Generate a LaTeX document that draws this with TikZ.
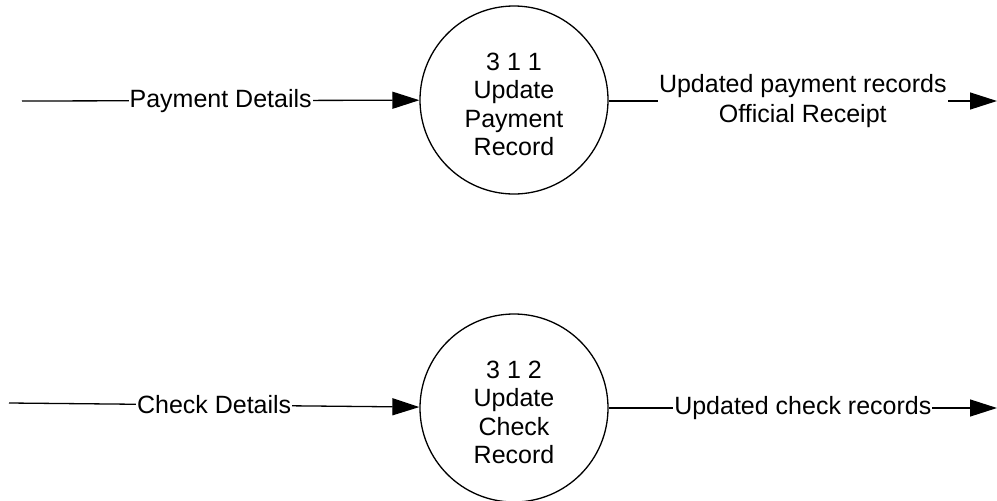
\documentclass[tikz,border=0pt]{standalone}
\usepackage{fontspec}
\setmainfont{Liberation Sans}
\usetikzlibrary{arrows.meta,positioning}

\tikzset{
  process/.style={draw, circle, line width=1.3pt, minimum size=188pt, inner sep=0pt,
    align=center, font=\fontsize{25}{28.5}\selectfont},
  flow/.style={line width=1.3pt, -{Triangle[length=27pt,width=17pt]}},
  flowlabel/.style={fill=white, inner sep=1pt, align=center,
    font=\fontsize{25}{30}\selectfont},
}
\newcommand{\toppad}{\rule{0pt}{26pt}}

\begin{document}
\begin{tikzpicture}[x=1pt,y=-1pt]
	\useasboundingbox (0,0) rectangle (997,501);
	% processes
	\node[process] (p1) at (514,100) {\toppad 3 1 1\\Update\\Payment\\Record};
	\node[process] (p2) at (514,408) {\toppad 3 1 2\\Update\\Check\\Record};
	%
	\coordinate (in1) at (22,101);
	\coordinate (in2) at (9,403);
	\coordinate (out1) at (997,101);
	\coordinate (out2) at (997,408);
	%
	\draw[flow] (in1) -- node[flowlabel] (l1) {Payment Details} (p1);
	\draw[flow] (p1.east |- out1) -- node[flowlabel] (l2) {Updated payment records\\Official Receipt} (out1);
	\draw[flow] (in2) -- node[flowlabel] (l3) {Check Details} (p2);
	\draw[flow] (p2) -- node[flowlabel] (l4) {Updated check records} (out2);
\end{tikzpicture}
\end{document}
